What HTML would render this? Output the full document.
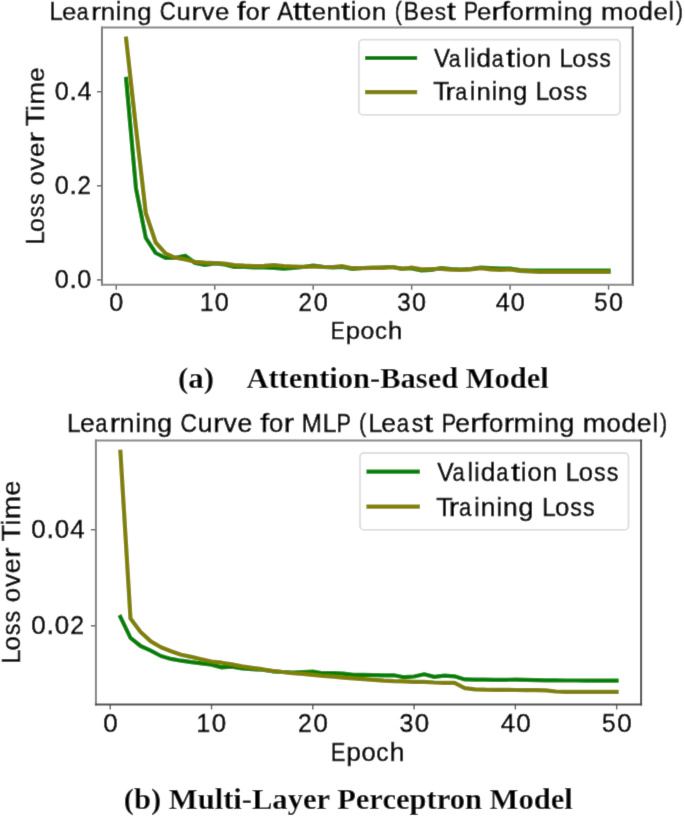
<!DOCTYPE html><html><head><meta charset="utf-8"><title>Learning curves</title><style>html,body{margin:0;padding:0;background:#fff;overflow:hidden}svg{display:block}</style></head><body>
<svg width="685" height="818" viewBox="0 0 685 818">
<defs><filter id="soft" x="0" y="0" width="685" height="818" filterUnits="userSpaceOnUse"><feConvolveMatrix order="3" kernelMatrix="0.0100 0.0800 0.0100 0.0800 0.6400 0.0800 0.0100 0.0800 0.0100" divisor="1" edgeMode="duplicate"/></filter></defs>
<rect width="685" height="818" fill="#fff"/>
<g filter="url(#soft)"><rect width="685" height="818" fill="#fff"/>
<line x1="116.30" y1="284.7" x2="116.30" y2="289.70" stroke="#555" stroke-width="1.4"/>
<line x1="214.75" y1="284.7" x2="214.75" y2="289.70" stroke="#555" stroke-width="1.4"/>
<line x1="313.20" y1="284.7" x2="313.20" y2="289.70" stroke="#555" stroke-width="1.4"/>
<line x1="411.65" y1="284.7" x2="411.65" y2="289.70" stroke="#555" stroke-width="1.4"/>
<line x1="510.10" y1="284.7" x2="510.10" y2="289.70" stroke="#555" stroke-width="1.4"/>
<line x1="608.55" y1="284.7" x2="608.55" y2="289.70" stroke="#555" stroke-width="1.4"/>
<line x1="96.95" y1="279.90" x2="101.95" y2="279.90" stroke="#555" stroke-width="1.4"/>
<line x1="96.95" y1="185.80" x2="101.95" y2="185.80" stroke="#555" stroke-width="1.4"/>
<line x1="96.95" y1="91.70" x2="101.95" y2="91.70" stroke="#555" stroke-width="1.4"/>
<line x1="101.95" y1="26.4" x2="101.95" y2="285.7" stroke="#747474" stroke-width="2"/>
<line x1="100.95" y1="27.4" x2="633.7" y2="27.4" stroke="#888" stroke-width="2"/>
<line x1="632.7" y1="26.4" x2="632.7" y2="285.7" stroke="#484848" stroke-width="2"/>
<line x1="100.95" y1="284.7" x2="633.7" y2="284.7" stroke="#888" stroke-width="2"/>
<polyline points="126.1,78.8 136.0,188.5 145.8,237.8 155.7,253.0 165.5,258.0 175.4,257.8 185.2,255.7 195.1,263.0 204.9,265.0 214.8,263.4 224.6,264.4 234.4,266.9 244.3,267.0 254.1,267.5 264.0,267.5 273.8,267.8 283.7,268.6 293.5,267.8 303.4,267.0 313.2,265.5 323.0,266.8 332.9,267.5 342.7,267.0 352.6,269.0 362.4,268.0 372.3,267.8 382.1,267.5 392.0,267.0 401.8,268.5 411.7,268.5 421.5,270.4 431.3,270.0 441.2,268.0 451.0,269.0 460.9,269.5 470.7,269.0 480.6,267.7 490.4,268.2 500.3,268.5 510.1,268.5 519.9,270.0 529.8,270.5 539.6,270.6 549.5,270.6 559.3,270.6 569.2,270.6 579.0,270.6 588.9,270.6 598.7,270.6 608.6,270.6" fill="none" stroke="#008000" stroke-width="4.2" stroke-linejoin="round" stroke-linecap="square"/>
<polyline points="126.1,38.5 136.0,128.0 145.8,213.0 155.7,242.5 165.5,253.4 175.4,257.8 185.2,259.5 195.1,261.8 204.9,262.7 214.8,263.0 224.6,263.6 234.4,265.1 244.3,265.7 254.1,266.0 264.0,265.8 273.8,265.0 283.7,266.0 293.5,266.5 303.4,266.8 313.2,266.5 323.0,267.0 332.9,267.0 342.7,266.2 352.6,268.2 362.4,268.2 372.3,267.9 382.1,267.8 392.0,267.0 401.8,269.0 411.7,267.5 421.5,269.4 431.3,269.0 441.2,268.8 451.0,269.7 460.9,270.0 470.7,269.4 480.6,268.2 490.4,269.4 500.3,270.0 510.1,269.4 519.9,270.8 529.8,271.4 539.6,271.9 549.5,271.9 559.3,271.9 569.2,271.9 579.0,271.9 588.9,271.9 598.7,271.9 608.6,271.9" fill="none" stroke="#808000" stroke-width="4.2" stroke-linejoin="round" stroke-linecap="square"/>
<rect x="358.9" y="39.7" width="261.1" height="75.2" rx="4" fill="#fff" fill-opacity="0.8" stroke="#dedede" stroke-width="1.8"/>
<line x1="367.2" y1="58.0" x2="415.1" y2="58.0" stroke="#008000" stroke-width="4.2" stroke-linecap="square"/>
<line x1="367.2" y1="92.2" x2="415.1" y2="92.2" stroke="#808000" stroke-width="4.2" stroke-linecap="square"/>
<g font-size="24.86" font-family="'Liberation Sans', sans-serif" font-weight="normal" stroke="#000" stroke-width="0.5"><text transform="translate(434.08,66.60) scale(0.972,1.012)">V</text><text transform="translate(448.85,66.60) scale(0.863,0.992)">a</text><text transform="translate(463.68,66.60) scale(0.957,1.003)">l</text><text transform="translate(470.29,66.60) scale(0.957,1.003)">i</text><text transform="translate(476.46,66.60) scale(1.042,1.003)">d</text><text transform="translate(491.75,66.60) scale(0.863,0.992)">a</text><text transform="translate(505.97,66.60) scale(1.295,1.039)">t</text><text transform="translate(515.90,66.60) scale(0.957,1.003)">i</text><text transform="translate(522.11,66.60) scale(1.007,0.992)">o</text><text transform="translate(536.82,66.60) scale(1.036,0.992)">n</text><text transform="translate(559.45,66.60) scale(0.968,1.012)">L</text><text transform="translate(572.13,66.60) scale(1.007,0.992)">o</text><text transform="translate(587.01,66.60) scale(0.913,1.002)">s</text><text transform="translate(599.40,66.60) scale(0.913,1.002)">s</text></g>
<g font-size="24.83" font-family="'Liberation Sans', sans-serif" font-weight="normal" stroke="#000" stroke-width="0.5"><text transform="translate(433.25,100.20) scale(1.050,1.005)">T</text><text transform="translate(445.20,100.20) scale(1.225,0.992)">r</text><text transform="translate(455.27,100.20) scale(0.863,0.992)">a</text><text transform="translate(470.08,100.20) scale(0.957,1.003)">i</text><text transform="translate(476.43,100.20) scale(1.036,0.992)">n</text><text transform="translate(491.73,100.20) scale(0.957,1.003)">i</text><text transform="translate(498.09,100.20) scale(1.036,0.992)">n</text><text transform="translate(512.95,100.20) scale(1.042,1.002)">g</text><text transform="translate(535.76,100.20) scale(0.968,1.012)">L</text><text transform="translate(548.43,100.20) scale(1.007,0.992)">o</text><text transform="translate(563.29,100.20) scale(0.913,1.002)">s</text><text transform="translate(575.67,100.20) scale(0.913,1.002)">s</text></g>
<g font-size="24.78" font-family="'Liberation Sans', sans-serif" font-weight="normal" stroke="#000" stroke-width="0.5"><text transform="translate(49.48,19.60) scale(0.968,1.012)">L</text><text transform="translate(61.97,19.60) scale(1.039,0.992)">e</text><text transform="translate(76.87,19.60) scale(0.863,0.992)">a</text><text transform="translate(91.10,19.60) scale(1.225,0.992)">r</text><text transform="translate(100.73,19.60) scale(1.036,0.992)">n</text><text transform="translate(116.00,19.60) scale(0.957,1.003)">i</text><text transform="translate(122.35,19.60) scale(1.036,0.992)">n</text><text transform="translate(137.18,19.60) scale(1.042,1.002)">g</text><text transform="translate(159.69,19.60) scale(0.896,1.012)">C</text><text transform="translate(176.39,19.60) scale(1.036,0.984)">u</text><text transform="translate(191.23,19.60) scale(1.225,0.992)">r</text><text transform="translate(201.40,19.60) scale(1.035,0.984)">v</text><text transform="translate(215.00,19.60) scale(1.039,0.992)">e</text><text transform="translate(237.10,19.60) scale(1.246,1.003)">f</text><text transform="translate(245.63,19.60) scale(1.007,0.992)">o</text><text transform="translate(259.99,19.60) scale(1.225,0.992)">r</text><text transform="translate(277.23,19.60) scale(0.964,1.013)">A</text><text transform="translate(293.02,19.60) scale(1.295,1.039)">t</text><text transform="translate(302.32,19.60) scale(1.295,1.039)">t</text><text transform="translate(311.65,19.60) scale(1.039,0.992)">e</text><text transform="translate(326.56,19.60) scale(1.036,0.992)">n</text><text transform="translate(341.23,19.60) scale(1.295,1.039)">t</text><text transform="translate(351.12,19.60) scale(0.957,1.003)">i</text><text transform="translate(357.31,19.60) scale(1.007,0.992)">o</text><text transform="translate(371.97,19.60) scale(1.036,0.992)">n</text><text transform="translate(394.70,19.60) scale(0.850,1.003)">(</text><text transform="translate(403.86,19.60) scale(0.921,1.012)">B</text><text transform="translate(419.73,19.60) scale(1.039,0.992)">e</text><text transform="translate(434.80,19.60) scale(0.913,1.002)">s</text><text transform="translate(446.63,19.60) scale(1.295,1.039)">t</text><text transform="translate(463.98,19.60) scale(0.850,1.012)">P</text><text transform="translate(476.95,19.60) scale(1.039,0.992)">e</text><text transform="translate(491.56,19.60) scale(1.225,0.992)">r</text><text transform="translate(501.27,19.60) scale(1.246,1.003)">f</text><text transform="translate(509.79,19.60) scale(1.007,0.992)">o</text><text transform="translate(524.15,19.60) scale(1.225,0.992)">r</text><text transform="translate(533.70,19.60) scale(1.094,0.992)">m</text><text transform="translate(557.13,19.60) scale(0.957,1.003)">i</text><text transform="translate(563.47,19.60) scale(1.036,0.992)">n</text><text transform="translate(578.30,19.60) scale(1.042,1.002)">g</text><text transform="translate(600.99,19.60) scale(1.094,0.992)">m</text><text transform="translate(624.02,19.60) scale(1.007,0.992)">o</text><text transform="translate(638.49,19.60) scale(1.042,1.003)">d</text><text transform="translate(653.41,19.60) scale(1.039,0.992)">e</text><text transform="translate(668.57,19.60) scale(0.957,1.003)">l</text><text transform="translate(676.06,19.60) scale(0.850,1.003)">)</text></g>
<g font-size="25.05" font-family="'Liberation Sans', sans-serif" font-weight="normal" stroke="#000" stroke-width="0.5"><text transform="translate(109.31,311.20) scale(1.006,1.000)">0</text></g>
<g font-size="25.05" font-family="'Liberation Sans', sans-serif" font-weight="normal" stroke="#000" stroke-width="0.5"><text transform="translate(199.98,311.20) scale(0.957,1.001)">1</text><text transform="translate(214.78,311.20) scale(1.006,1.000)">0</text></g>
<g font-size="25.05" font-family="'Liberation Sans', sans-serif" font-weight="normal" stroke="#000" stroke-width="0.5"><text transform="translate(298.61,311.20) scale(0.956,1.000)">2</text><text transform="translate(313.64,311.20) scale(1.006,1.000)">0</text></g>
<g font-size="25.05" font-family="'Liberation Sans', sans-serif" font-weight="normal" stroke="#000" stroke-width="0.5"><text transform="translate(397.29,311.20) scale(0.966,1.000)">3</text><text transform="translate(412.09,311.20) scale(1.006,1.000)">0</text></g>
<g font-size="25.05" font-family="'Liberation Sans', sans-serif" font-weight="normal" stroke="#000" stroke-width="0.5"><text transform="translate(495.79,311.20) scale(1.003,0.994)">4</text><text transform="translate(510.84,311.20) scale(1.006,1.000)">0</text></g>
<g font-size="25.05" font-family="'Liberation Sans', sans-serif" font-weight="normal" stroke="#000" stroke-width="0.5"><text transform="translate(594.21,311.20) scale(0.946,0.994)">5</text><text transform="translate(608.99,311.20) scale(1.006,1.000)">0</text></g>
<g font-size="25.05" font-family="'Liberation Sans', sans-serif" font-weight="normal" stroke="#000" stroke-width="0.5"><text transform="translate(54.74,288.20) scale(1.006,1.000)">0</text><text transform="translate(69.42,288.20) scale(1.046,1.126)">.</text><text transform="translate(77.35,288.20) scale(1.006,1.000)">0</text></g>
<g font-size="25.05" font-family="'Liberation Sans', sans-serif" font-weight="normal" stroke="#000" stroke-width="0.5"><text transform="translate(54.74,194.10) scale(1.006,1.000)">0</text><text transform="translate(69.42,194.10) scale(1.046,1.126)">.</text><text transform="translate(77.40,194.10) scale(0.956,1.000)">2</text></g>
<g font-size="25.05" font-family="'Liberation Sans', sans-serif" font-weight="normal" stroke="#000" stroke-width="0.5"><text transform="translate(54.74,100.00) scale(1.006,1.000)">0</text><text transform="translate(69.42,100.00) scale(1.046,1.126)">.</text><text transform="translate(77.38,100.00) scale(1.003,0.994)">4</text></g>
<g font-size="24.67" font-family="'Liberation Sans', sans-serif" font-weight="normal" stroke="#000" stroke-width="0.5"><text transform="translate(330.86,338.70) scale(0.850,1.005)">E</text><text transform="translate(345.71,338.70) scale(1.042,1.002)">p</text><text transform="translate(360.55,338.70) scale(1.007,0.992)">o</text><text transform="translate(374.91,338.70) scale(0.968,0.992)">c</text><text transform="translate(387.99,338.70) scale(1.048,1.003)">h</text></g>
<g font-size="24.75" font-family="'Liberation Sans', sans-serif" font-weight="normal" stroke="#000" stroke-width="0.5"><text transform="translate(43.90,244.62) rotate(-90) scale(0.968,1.012)">L</text><text transform="translate(43.90,231.98) rotate(-90) scale(1.007,0.992)">o</text><text transform="translate(43.90,217.17) rotate(-90) scale(0.913,1.002)">s</text><text transform="translate(43.90,204.83) rotate(-90) scale(0.913,1.002)">s</text><text transform="translate(43.90,185.29) rotate(-90) scale(1.007,0.992)">o</text><text transform="translate(43.90,170.52) rotate(-90) scale(1.035,0.984)">v</text><text transform="translate(43.90,156.94) rotate(-90) scale(1.039,0.992)">e</text><text transform="translate(43.90,142.35) rotate(-90) scale(1.225,0.992)">r</text><text transform="translate(43.90,126.01) rotate(-90) scale(1.050,1.005)">T</text><text transform="translate(43.90,110.80) rotate(-90) scale(0.957,1.003)">i</text><text transform="translate(43.90,104.56) rotate(-90) scale(1.094,0.992)">m</text><text transform="translate(43.90,81.71) rotate(-90) scale(1.039,0.992)">e</text></g>
<line x1="110.25" y1="704.45" x2="110.25" y2="709.45" stroke="#555" stroke-width="1.4"/>
<line x1="211.53" y1="704.45" x2="211.53" y2="709.45" stroke="#555" stroke-width="1.4"/>
<line x1="312.81" y1="704.45" x2="312.81" y2="709.45" stroke="#555" stroke-width="1.4"/>
<line x1="414.09" y1="704.45" x2="414.09" y2="709.45" stroke="#555" stroke-width="1.4"/>
<line x1="515.37" y1="704.45" x2="515.37" y2="709.45" stroke="#555" stroke-width="1.4"/>
<line x1="616.65" y1="704.45" x2="616.65" y2="709.45" stroke="#555" stroke-width="1.4"/>
<line x1="90.90" y1="625.80" x2="95.9" y2="625.80" stroke="#555" stroke-width="1.4"/>
<line x1="90.90" y1="529.70" x2="95.9" y2="529.70" stroke="#555" stroke-width="1.4"/>
<line x1="95.9" y1="439.5" x2="95.9" y2="705.45" stroke="#808080" stroke-width="2"/>
<line x1="94.9" y1="440.5" x2="642.1" y2="440.5" stroke="#888" stroke-width="2"/>
<line x1="641.1" y1="439.5" x2="641.1" y2="705.45" stroke="#444" stroke-width="2"/>
<line x1="94.9" y1="704.45" x2="642.1" y2="704.45" stroke="#4a4a4a" stroke-width="2"/>
<polyline points="120.4,616.9 130.5,637.9 140.6,646.0 150.8,650.7 160.9,656.0 171.0,658.9 181.1,660.7 191.3,662.2 201.4,663.4 211.5,664.6 221.7,667.4 231.8,666.7 241.9,668.5 252.0,669.2 262.2,669.7 272.3,671.3 282.4,672.0 292.6,672.5 302.7,672.0 312.8,671.6 322.9,673.2 333.1,673.2 343.2,673.7 353.3,674.9 363.4,674.9 373.6,675.1 383.7,675.3 393.8,675.3 404.0,677.2 414.1,676.5 424.2,674.3 434.3,676.9 444.5,675.7 454.6,676.3 464.7,679.4 474.9,679.6 485.0,679.7 495.1,679.9 505.2,679.8 515.4,679.7 525.5,679.9 535.6,680.1 545.8,680.3 555.9,680.4 566.0,680.5 576.1,680.5 586.3,680.6 596.4,680.6 606.5,680.7 616.6,680.7" fill="none" stroke="#008000" stroke-width="4.2" stroke-linejoin="round" stroke-linecap="square"/>
<polyline points="120.4,451.7 130.5,618.6 140.6,632.0 150.8,641.4 160.9,647.2 171.0,651.3 181.1,654.8 191.3,656.9 201.4,659.2 211.5,661.5 221.7,662.7 231.8,664.3 241.9,666.2 252.0,667.8 262.2,669.2 272.3,670.9 282.4,672.0 292.6,673.2 302.7,673.9 312.8,674.8 322.9,676.0 333.1,676.7 343.2,677.7 353.3,678.4 363.4,679.1 373.6,679.8 383.7,680.7 393.8,681.2 404.0,681.4 414.1,681.9 424.2,681.9 434.3,682.5 444.5,682.8 454.6,682.8 464.7,688.1 474.9,689.3 485.0,689.7 495.1,689.8 505.2,689.9 515.4,690.0 525.5,690.1 535.6,690.2 545.8,690.3 555.9,691.5 566.0,691.8 576.1,691.8 586.3,691.8 596.4,691.8 606.5,691.8 616.6,691.8" fill="none" stroke="#808000" stroke-width="4.2" stroke-linejoin="round" stroke-linecap="square"/>
<rect x="360" y="453" width="268.5" height="76.9" rx="4" fill="#fff" fill-opacity="0.8" stroke="#dedede" stroke-width="1.8"/>
<line x1="368.5" y1="471.6" x2="417.8" y2="471.6" stroke="#008000" stroke-width="4.2" stroke-linecap="square"/>
<line x1="368.5" y1="506.6" x2="417.8" y2="506.6" stroke="#808000" stroke-width="4.2" stroke-linecap="square"/>
<g font-size="25.47" font-family="'Liberation Sans', sans-serif" font-weight="normal" stroke="#000" stroke-width="0.5"><text transform="translate(437.28,480.70) scale(0.972,1.012)">V</text><text transform="translate(452.41,480.70) scale(0.863,0.992)">a</text><text transform="translate(467.60,480.70) scale(0.957,1.003)">l</text><text transform="translate(474.37,480.70) scale(0.957,1.003)">i</text><text transform="translate(480.69,480.70) scale(1.042,1.003)">d</text><text transform="translate(496.35,480.70) scale(0.863,0.992)">a</text><text transform="translate(510.93,480.70) scale(1.295,1.039)">t</text><text transform="translate(521.10,480.70) scale(0.957,1.003)">i</text><text transform="translate(527.46,480.70) scale(1.007,0.992)">o</text><text transform="translate(542.53,480.70) scale(1.036,0.992)">n</text><text transform="translate(565.71,480.70) scale(0.968,1.012)">L</text><text transform="translate(578.71,480.70) scale(1.007,0.992)">o</text><text transform="translate(593.95,480.70) scale(0.913,1.002)">s</text><text transform="translate(606.64,480.70) scale(0.913,1.002)">s</text></g>
<g font-size="25.58" font-family="'Liberation Sans', sans-serif" font-weight="normal" stroke="#000" stroke-width="0.5"><text transform="translate(436.33,515.60) scale(1.050,1.005)">T</text><text transform="translate(448.64,515.60) scale(1.225,0.992)">r</text><text transform="translate(459.01,515.60) scale(0.863,0.992)">a</text><text transform="translate(474.27,515.60) scale(0.957,1.003)">i</text><text transform="translate(480.81,515.60) scale(1.036,0.992)">n</text><text transform="translate(496.58,515.60) scale(0.957,1.003)">i</text><text transform="translate(503.12,515.60) scale(1.036,0.992)">n</text><text transform="translate(518.44,515.60) scale(1.042,1.002)">g</text><text transform="translate(541.94,515.60) scale(0.968,1.012)">L</text><text transform="translate(554.99,515.60) scale(1.007,0.992)">o</text><text transform="translate(570.29,515.60) scale(0.913,1.002)">s</text><text transform="translate(583.05,515.60) scale(0.913,1.002)">s</text></g>
<g font-size="25.50" font-family="'Liberation Sans', sans-serif" font-weight="normal" stroke="#000" stroke-width="0.5"><text transform="translate(67.03,431.80) scale(0.968,1.012)">L</text><text transform="translate(79.88,431.80) scale(1.039,0.992)">e</text><text transform="translate(95.21,431.80) scale(0.863,0.992)">a</text><text transform="translate(109.86,431.80) scale(1.225,0.992)">r</text><text transform="translate(119.78,431.80) scale(1.036,0.992)">n</text><text transform="translate(135.50,431.80) scale(0.957,1.003)">i</text><text transform="translate(142.03,431.80) scale(1.036,0.992)">n</text><text transform="translate(157.29,431.80) scale(1.042,1.002)">g</text><text transform="translate(180.46,431.80) scale(0.896,1.012)">C</text><text transform="translate(197.66,431.80) scale(1.036,0.984)">u</text><text transform="translate(212.93,431.80) scale(1.225,0.992)">r</text><text transform="translate(223.40,431.80) scale(1.035,0.984)">v</text><text transform="translate(237.39,431.80) scale(1.039,0.992)">e</text><text transform="translate(260.15,431.80) scale(1.246,1.003)">f</text><text transform="translate(268.92,431.80) scale(1.007,0.992)">o</text><text transform="translate(283.70,431.80) scale(1.225,0.992)">r</text><text transform="translate(301.83,431.80) scale(0.950,1.012)">M</text><text transform="translate(322.85,431.80) scale(0.968,1.012)">L</text><text transform="translate(336.62,431.80) scale(0.850,1.012)">P</text><text transform="translate(359.10,431.80) scale(0.850,1.003)">(</text><text transform="translate(368.44,431.80) scale(0.968,1.012)">L</text><text transform="translate(381.29,431.80) scale(1.039,0.992)">e</text><text transform="translate(396.63,431.80) scale(0.863,0.992)">a</text><text transform="translate(411.75,431.80) scale(0.913,1.002)">s</text><text transform="translate(423.94,431.80) scale(1.295,1.039)">t</text><text transform="translate(441.79,431.80) scale(0.850,1.012)">P</text><text transform="translate(455.15,431.80) scale(1.039,0.992)">e</text><text transform="translate(470.18,431.80) scale(1.225,0.992)">r</text><text transform="translate(480.18,431.80) scale(1.246,1.003)">f</text><text transform="translate(488.95,431.80) scale(1.007,0.992)">o</text><text transform="translate(503.73,431.80) scale(1.225,0.992)">r</text><text transform="translate(513.56,431.80) scale(1.094,0.992)">m</text><text transform="translate(537.68,431.80) scale(0.957,1.003)">i</text><text transform="translate(544.20,431.80) scale(1.036,0.992)">n</text><text transform="translate(559.47,431.80) scale(1.042,1.002)">g</text><text transform="translate(582.82,431.80) scale(1.094,0.992)">m</text><text transform="translate(606.53,431.80) scale(1.007,0.992)">o</text><text transform="translate(621.42,431.80) scale(1.042,1.003)">d</text><text transform="translate(636.78,431.80) scale(1.039,0.992)">e</text><text transform="translate(652.38,431.80) scale(0.957,1.003)">l</text><text transform="translate(660.09,431.80) scale(0.850,1.003)">)</text></g>
<g font-size="25.79" font-family="'Liberation Sans', sans-serif" font-weight="normal" stroke="#000" stroke-width="0.5"><text transform="translate(103.25,732.10) scale(1.006,1.000)">0</text></g>
<g font-size="25.79" font-family="'Liberation Sans', sans-serif" font-weight="normal" stroke="#000" stroke-width="0.5"><text transform="translate(196.52,732.10) scale(0.957,1.001)">1</text><text transform="translate(211.76,732.10) scale(1.006,1.000)">0</text></g>
<g font-size="25.79" font-family="'Liberation Sans', sans-serif" font-weight="normal" stroke="#000" stroke-width="0.5"><text transform="translate(297.99,732.10) scale(0.956,1.000)">2</text><text transform="translate(313.46,732.10) scale(1.006,1.000)">0</text></g>
<g font-size="25.79" font-family="'Liberation Sans', sans-serif" font-weight="normal" stroke="#000" stroke-width="0.5"><text transform="translate(399.51,732.10) scale(0.966,1.000)">3</text><text transform="translate(414.74,732.10) scale(1.006,1.000)">0</text></g>
<g font-size="25.79" font-family="'Liberation Sans', sans-serif" font-weight="normal" stroke="#000" stroke-width="0.5"><text transform="translate(500.83,732.10) scale(1.003,0.994)">4</text><text transform="translate(516.33,732.10) scale(1.006,1.000)">0</text></g>
<g font-size="25.79" font-family="'Liberation Sans', sans-serif" font-weight="normal" stroke="#000" stroke-width="0.5"><text transform="translate(602.09,732.10) scale(0.946,0.994)">5</text><text transform="translate(617.30,732.10) scale(1.006,1.000)">0</text></g>
<g font-size="25.79" font-family="'Liberation Sans', sans-serif" font-weight="normal" stroke="#000" stroke-width="0.5"><text transform="translate(31.37,634.30) scale(1.006,1.000)">0</text><text transform="translate(46.48,634.30) scale(1.046,1.126)">.</text><text transform="translate(54.65,634.30) scale(1.006,1.000)">0</text><text transform="translate(70.22,634.30) scale(0.956,1.000)">2</text></g>
<g font-size="25.79" font-family="'Liberation Sans', sans-serif" font-weight="normal" stroke="#000" stroke-width="0.5"><text transform="translate(31.37,538.20) scale(1.006,1.000)">0</text><text transform="translate(46.48,538.20) scale(1.046,1.126)">.</text><text transform="translate(54.65,538.20) scale(1.006,1.000)">0</text><text transform="translate(70.20,538.20) scale(1.003,0.994)">4</text></g>
<g font-size="25.33" font-family="'Liberation Sans', sans-serif" font-weight="normal" stroke="#000" stroke-width="0.5"><text transform="translate(331.01,760.70) scale(0.850,1.005)">E</text><text transform="translate(346.25,760.70) scale(1.042,1.002)">p</text><text transform="translate(361.49,760.70) scale(1.007,0.992)">o</text><text transform="translate(376.23,760.70) scale(0.968,0.992)">c</text><text transform="translate(389.65,760.70) scale(1.048,1.003)">h</text></g>
<g font-size="25.50" font-family="'Liberation Sans', sans-serif" font-weight="normal" stroke="#000" stroke-width="0.5"><text transform="translate(20.00,663.47) rotate(-90) scale(0.968,1.012)">L</text><text transform="translate(20.00,650.46) rotate(-90) scale(1.007,0.992)">o</text><text transform="translate(20.00,635.20) rotate(-90) scale(0.913,1.002)">s</text><text transform="translate(20.00,622.48) rotate(-90) scale(0.913,1.002)">s</text><text transform="translate(20.00,602.34) rotate(-90) scale(1.007,0.992)">o</text><text transform="translate(20.00,587.12) rotate(-90) scale(1.035,0.984)">v</text><text transform="translate(20.00,573.13) rotate(-90) scale(1.039,0.992)">e</text><text transform="translate(20.00,558.10) rotate(-90) scale(1.225,0.992)">r</text><text transform="translate(20.00,541.26) rotate(-90) scale(1.050,1.005)">T</text><text transform="translate(20.00,525.58) rotate(-90) scale(0.957,1.003)">i</text><text transform="translate(20.00,519.15) rotate(-90) scale(1.094,0.992)">m</text><text transform="translate(20.00,495.61) rotate(-90) scale(1.039,0.992)">e</text></g>
<text x="177.91" y="387.70" font-size="30.2" font-family="'Liberation Serif', serif" font-weight="bold" textLength="36.01" lengthAdjust="spacingAndGlyphs">(a)</text>
<text x="246.40" y="387.70" font-size="30.2" font-family="'Liberation Serif', serif" font-weight="bold" textLength="302.39" lengthAdjust="spacingAndGlyphs">Attention-Based Model</text>
<text x="123.82" y="808.80" font-size="30.0" font-family="'Liberation Serif', serif" font-weight="bold" textLength="448.98" lengthAdjust="spacingAndGlyphs">(b) Multi-Layer Perceptron Model</text>
</g></svg></body></html>
